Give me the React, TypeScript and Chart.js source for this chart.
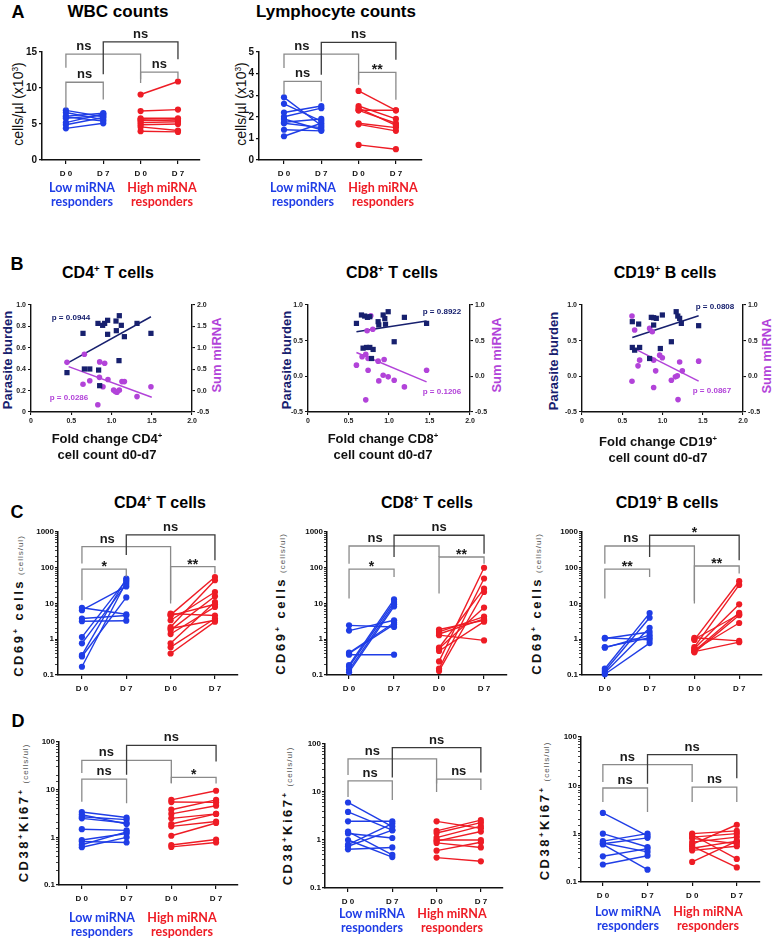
import React, { useEffect, useRef } from 'react';
import { Chart, registerables } from 'chart.js';
Chart.register(...registerables);

const SANS = '"Liberation Sans", Arial, Helvetica, sans-serif';
const HUM = 'Lato, "Open Sans", sans-serif';
const BLUE = '#1f3de6';
const RED = '#ee1c25';
const NAVY = '#17206e';
const PURPLE = '#b243d9';
const BR_GRAY = '#8a8a8a';
const BR_DARK = '#3a3a3a';

const dayLabels = ['D 0', 'D 7', 'D 0', 'D 7'];

// ---------- Panel A ----------
const wbcLowD0 = [6.9, 6.6, 6.1, 5.8, 5.2, 4.9, 4.4, 6.0];
const wbcLowD7 = [6.0, 5.6, 6.5, 6.2, 6.4, 5.9, 5.1, 5.4];
const wbcHighD0 = [9.1, 6.8, 5.8, 5.5, 5.2, 4.9, 4.6, 4.0, 5.6];
const wbcHighD7 = [10.9, 7.0, 5.8, 5.6, 5.3, 5.0, 4.1, 3.9, 5.4];
const wbcBrackets = [
  { x1: 1, x2: 2, top: 10.8, b1: 7.2, b2: 8.4, label: 'ns' },
  { x1: 3, x2: 4, top: 12.2, b1: 10.7, b2: 11.3, label: 'ns' },
  { x1: 1, x2: 3, top: 14.7, b1: 12.8, b2: 11.2, label: 'ns', labelX: 1.48 },
  { x1: 2, x2: 4, top: 16.4, b1: 11.9, b2: 14.0, label: 'ns', dark: true },
];

const lymLowD0 = [2.9, 2.6, 2.2, 2.0, 1.9, 1.75, 1.7, 1.4, 1.1];
const lymLowD7 = [1.6, 1.8, 2.5, 2.4, 1.4, 1.9, 1.5, 1.35, 1.7];
const lymHighD0 = [3.2, 2.5, 2.4, 2.3, 1.7, 1.65, 0.7, 2.3];
const lymHighD7 = [2.3, 1.9, 1.6, 2.3, 1.5, 1.35, 0.5, 1.7];
const lymBrackets = [
  { x1: 1, x2: 2, top: 3.64, b1: 3.02, b2: 2.71, label: 'ns' },
  { x1: 3, x2: 4, top: 4.06, b1: 3.48, b2: 2.79, label: '**' },
  { x1: 1, x2: 3, top: 4.9, b1: 4.26, b2: 3.72, label: 'ns', labelX: 1.48 },
  { x1: 2, x2: 4, top: 5.45, b1: 3.95, b2: 4.64, label: 'ns', dark: true },
];

// ---------- Panel B ----------
const cd4ParX = [0.447, 0.646, 0.663, 0.73, 0.84, 0.853, 0.832, 0.89, 0.915, 0.952, 0.952, 1.056, 1.06, 1.097, 1.093, 1.122, 1.16, 1.317, 1.49];
const cd4ParY = [0.368, 0.735, 0.402, 0.402, 0.392, 0.246, 0.828, 0.81, 0.828, 0.857, 0.726, 0.85, 0.76, 0.9, 0.48, 0.81, 0.704, 0.828, 0.735];
const cd4MirX = [0.447, 0.663, 0.646, 0.73, 0.853, 0.915, 0.85, 0.894, 0.956, 1.027, 1.048, 1.068, 1.097, 1.13, 1.16, 1.317, 1.49, 0.83];
const cd4MirY = [0.66, 0.85, 0.15, 0.23, 0.67, 0.64, 0.31, 0.09, 0.26, 0.01, -0.02, -0.04, 0.01, 0.21, 0.21, -0.14, 0.09, -0.33];
const cd4ParFitX = [0.447, 1.49];
const cd4ParFitY = [0.455, 0.89];
const cd4MirFitX = [0.468, 1.5];
const cd4MirFitY = [0.56, -0.157];

const cd8ParX = [0.598, 0.66, 0.7, 0.734, 0.763, 0.866, 0.874, 0.928, 0.948, 0.99, 0.957, 1.19, 1.464, 0.722, 0.763, 0.804, 0.784, 1.064, 0.68];
const cd8ParY = [0.742, 0.86, 0.845, 0.827, 0.836, 0.766, 0.72, 0.86, 0.81, 0.906, 0.73, 0.827, 0.742, 0.405, 0.405, 0.377, 0.25, 0.485, 0.395];
const cd8MirX = [0.775, 0.73, 0.8, 0.598, 0.668, 0.713, 0.742, 0.742, 0.866, 0.94, 0.874, 0.928, 0.99, 1.064, 1.19, 1.464, 0.713];
const cd8MirY = [0.85, 0.64, 0.66, 0.157, 0.274, 0.31, 0.25, 0.086, 0.213, 0.236, -0.064, 0.016, -0.007, -0.054, -0.148, 0.086, -0.33];
const cd8ParFitX = [0.598, 1.464];
const cd8ParFitY = [0.625, 0.775];
const cd8MirFitX = [0.598, 1.464];
const cd8MirFitY = [0.335, -0.078];

const cd19ParX = [0.625, 0.704, 0.625, 0.654, 0.716, 0.861, 0.89, 0.923, 0.89, 0.998, 0.84, 0.973, 1.11, 1.17, 1.19, 1.213, 1.234, 1.449];
const cd19ParY = [0.766, 0.733, 0.405, 0.367, 0.405, 0.827, 0.822, 0.813, 0.719, 0.86, 0.25, 0.39, 0.485, 0.906, 0.845, 0.813, 0.742, 0.71];
const cd19MirX = [0.621, 0.654, 0.84, 0.873, 0.716, 0.696, 0.89, 0.915, 0.965, 0.998, 0.621, 0.89, 1.11, 1.16, 1.184, 1.213, 1.246, 1.449, 1.193];
const cd19MirY = [0.845, 0.649, 0.672, 0.625, 0.227, 0.147, 0.227, 0.077, 0.297, 0.26, -0.068, -0.157, -0.054, -0.007, 0.007, 0.2, 0.077, 0.213, -0.326];
const cd19ParFitX = [0.625, 1.449];
const cd19ParFitY = [0.545, 0.85];
const cd19MirFitX = [0.687, 1.449];
const cd19MirFitY = [0.367, -0.068];

// ---------- Panel C ----------
const cd4cLowD0 = [7.6, 6.5, 3.8, 3.2, 1.15, 0.77, 0.36, 0.33, 0.17];
const cd4cLowD7 = [5.0, 30, 4.6, 3.3, 45, 35, 50, 14.8, 40];
const cd4cHighD0 = [5.2, 4.6, 3.4, 2.2, 1.8, 1.4, 0.77, 0.6, 0.4, 4.8, 2.0];
const cd4cHighD7 = [4.6, 9.5, 21, 45, 16, 8, 11, 3.8, 3.1, 55, 3.4];
const cd4cBrackets = [
  { x1: 1, x2: 2, top: 91, b1: 12.3, b2: 56, label: '*' },
  { x1: 3, x2: 4, top: 107, b1: 10, b2: 69, label: '**' },
  { x1: 1, x2: 3, top: 389, b1: 131, b2: 12.3, label: 'ns', labelX: 1.57 },
  { x1: 2, x2: 4, top: 832, b1: 229, b2: 163, label: 'ns', dark: true },
];

const cd8cLowD0 = [2.45, 1.75, 0.42, 0.4, 0.37, 0.19, 0.17, 0.14, 0.12];
const cd8cLowD7 = [2.2, 3.4, 2.9, 2.6, 0.37, 13, 11, 9.5, 8.3];
const cd8cHighD0 = [1.87, 1.6, 1.3, 0.58, 0.47, 0.24, 0.15, 0.13, 0.55, 1.4];
const cd8cHighD7 = [3.4, 4.3, 0.93, 26, 3.1, 100, 50, 21, 7.7, 3.7];
const cd8cBrackets = [
  { x1: 1, x2: 2, top: 91, b1: 13.8, b2: 55, label: '*' },
  { x1: 3, x2: 4, top: 200, b1: 19, b2: 130, label: '**' },
  { x1: 1, x2: 3, top: 406, b1: 130, b2: 200, label: 'ns', labelX: 1.58 },
  { x1: 2, x2: 4, top: 810, b1: 200, b2: 245, label: 'ns', dark: true },
];

const cd19cLowD0 = [1.1, 1.05, 0.58, 0.6, 0.15, 0.13, 0.115, 0.105];
const cd19cLowD7 = [0.96, 1.6, 1.3, 1.1, 5.4, 4.0, 2.1, 0.78];
const cd19cHighD0 = [1.1, 0.96, 0.6, 0.55, 0.47, 0.43, 0.5, 0.45, 1.0];
const cd19cHighD7 = [0.9, 42, 33, 9.5, 5.5, 4.7, 2.85, 0.83, 5.0];
const cd19cBrackets = [
  { x1: 1, x2: 2, top: 91, b1: 13.8, b2: 55, label: '**' },
  { x1: 3, x2: 4, top: 112, b1: 10, b2: 69, label: '**' },
  { x1: 1, x2: 3, top: 406, b1: 130, b2: 12, label: 'ns', labelX: 1.58 },
  { x1: 2, x2: 4, top: 810, b1: 200, b2: 162, label: '*', dark: true },
];

// ---------- Panel D ----------
const cd4dLowD0 = [3.4, 3.0, 2.7, 2.5, 1.48, 0.88, 0.82, 0.7, 0.62];
const cd4dLowD7 = [2.6, 1.9, 2.35, 2.0, 1.4, 1.2, 0.78, 1.3, 1.0];
const cd4dHighD0 = [6.1, 5.5, 3.8, 3.1, 2.5, 1.9, 1.7, 1.08, 0.69, 0.63];
const cd4dHighD7 = [9.5, 5.4, 6.1, 4.6, 3.1, 3.1, 2.15, 2.0, 0.9, 0.78];
const cd4dBrackets = [
  { x1: 1, x2: 2, top: 16.7, b1: 5.6, b2: 5.2, label: 'ns' },
  { x1: 3, x2: 4, top: 18.1, b1: 13.7, b2: 13.5, label: '*' },
  { x1: 1, x2: 3, top: 41, b1: 22.3, b2: 13.7, label: 'ns', labelX: 1.55 },
  { x1: 2, x2: 4, top: 85, b1: 20.5, b2: 39, label: 'ns', dark: true },
];

const cd8dLowD0 = [6.05, 3.85, 2.45, 1.5, 1.37, 1.0, 0.8, 0.74, 0.64];
const cd8dLowD7 = [1.9, 1.6, 2.45, 0.49, 1.1, 0.44, 2.2, 1.6, 0.7];
const cd8dHighD0 = [2.45, 1.55, 1.4, 1.12, 0.95, 0.87, 0.6, 0.43, 1.0];
const cd8dHighD7 = [1.75, 2.6, 2.3, 1.95, 1.5, 0.7, 0.9, 0.36, 1.0];
const cd8dBrackets = [
  { x1: 1, x2: 2, top: 17, b1: 7.9, b2: 6.8, label: 'ns' },
  { x1: 3, x2: 4, top: 18.6, b1: 10, b2: 11, label: 'ns' },
  { x1: 1, x2: 3, top: 49, b1: 22.5, b2: 15, label: 'ns', labelX: 1.55 },
  { x1: 2, x2: 4, top: 84, b1: 20, b2: 25.6, label: 'ns', dark: true },
];

const cd19dLowD0 = [2.68, 1.0, 0.7, 0.64, 0.6, 0.34, 0.23, 0.62];
const cd19dLowD7 = [0.9, 0.53, 1.0, 0.42, 0.18, 0.49, 0.35, 0.82];
const cd19dHighD0 = [1.0, 0.95, 0.85, 0.8, 0.67, 0.6, 0.5, 0.45, 0.26, 0.55];
const cd19dHighD7 = [1.14, 0.3, 1.0, 0.62, 0.85, 1.53, 0.7, 0.55, 0.7, 0.2];
const cd19dBrackets = [
  { x1: 1, x2: 2, top: 8.8, b1: 4.5, b2: 2.8, label: 'ns' },
  { x1: 3, x2: 4, top: 9.2, b1: 4.5, b2: 4.5, label: 'ns' },
  { x1: 1, x2: 3, top: 26.8, b1: 11.7, b2: 11.7, label: 'ns', labelX: 1.55 },
  { x1: 2, x2: 4, top: 43, b1: 10.8, b2: 14, label: 'ns', dark: true },
];

type Bracket = { x1: number; x2: number; top: number; b1: number; b2: number; label: string; labelX?: number; dark?: boolean };

function bracketPlugin(items: Bracket[]) {
  return {
    id: 'sigBrackets',
    afterDatasetsDraw(chart: any) {
      const { ctx } = chart;
      const xs = chart.scales.x;
      const ys = chart.scales.y;
      ctx.save();
      ctx.lineWidth = 1.3;
      items.forEach((it) => {
        const x1 = xs.getPixelForValue(it.x1);
        const x2 = xs.getPixelForValue(it.x2);
        const yt = ys.getPixelForValue(it.top);
        ctx.strokeStyle = it.dark ? BR_DARK : BR_GRAY;
        ctx.beginPath();
        ctx.moveTo(x1, ys.getPixelForValue(it.b1));
        ctx.lineTo(x1, yt);
        ctx.lineTo(x2, yt);
        ctx.lineTo(x2, ys.getPixelForValue(it.b2));
        ctx.stroke();
        const lx = xs.getPixelForValue(it.labelX ?? (it.x1 + it.x2) / 2);
        const star = it.label.indexOf('*') >= 0;
        ctx.fillStyle = '#1a1a1a';
        ctx.font = `bold ${star ? 14 : 13}px ${SANS}`;
        ctx.textAlign = 'center';
        ctx.textBaseline = 'alphabetic';
        ctx.fillText(it.label, lx, star ? yt + 2 : yt - 4);
      });
      ctx.restore();
    },
  };
}

const fmtLog = (v: number) => {
  const l = Math.log10(v);
  const r = Math.round(l);
  if (Math.abs(l - r) > 1e-6) return '';
  return r < 0 ? '0.1' : String(Math.pow(10, r));
};

function PairPanel(props: any) {
  const { rect, log, yMin, yMax, yStep, xMin, xMax, lowD0, lowD7, highD0, highD7, brackets, yFont } = props;
  const ref = useRef<HTMLCanvasElement>(null);
  const YW = 36, XH = 26, TOP = 54, RP = 14;
  const w = rect.r - rect.l + YW + RP;
  const h = rect.b - rect.t + TOP + XH;
  useEffect(() => {
    const datasets: any[] = [];
    const addPairs = (d0: number[], d7: number[], color: string, xa: number, xb: number) => {
      d0.forEach((v, i) => {
        datasets.push({
          data: [{ x: xa, y: v }, { x: xb, y: d7[i] }],
          borderColor: color,
          backgroundColor: color,
          borderWidth: 1.4,
          pointRadius: 3.1,
          pointBorderWidth: 0,
          pointHoverRadius: 3.1,
          clip: false,
          tension: 0,
        });
      });
    };
    addPairs(lowD0, lowD7, BLUE, 1, 2);
    addPairs(highD0, highD7, RED, 3, 4);
    const tickFont = { family: SANS, size: yFont, weight: 'bold' };
    const chart = new Chart(ref.current as HTMLCanvasElement, {
      type: 'line',
      data: { datasets },
      options: {
        animation: false,
        responsive: false,
        maintainAspectRatio: false,
        events: [],
        layout: { padding: { top: TOP, right: RP, left: 0, bottom: 0 } },
        plugins: { legend: { display: false }, tooltip: { enabled: false } },
        scales: {
          x: {
            type: 'linear',
            min: xMin,
            max: xMax,
            afterBuildTicks: (s: any) => {
              s.ticks = [1, 2, 3, 4].map((v) => ({ value: v }));
            },
            afterFit: (s: any) => {
              s.height = XH;
            },
            ticks: {
              callback: (v: any) => dayLabels[Math.round(v) - 1] ?? '',
              font: { family: SANS, size: 8, weight: 'bold' },
              color: '#111',
              padding: 5,
              maxRotation: 0,
              autoSkip: false,
            },
            grid: { drawOnChartArea: false, drawTicks: true, tickLength: 4, color: '#111', lineWidth: 1.2 },
            border: { display: true, color: '#111', width: 1.5 },
          },
          y: {
            type: log ? 'logarithmic' : 'linear',
            min: yMin,
            max: yMax,
            afterFit: (s: any) => {
              s.width = YW;
            },
            ticks: log
              ? { callback: (v: any) => fmtLog(Number(v)), autoSkip: false, font: tickFont, color: '#111', padding: 1 }
              : { stepSize: yStep, font: tickFont, color: '#111', padding: 2 },
            grid: {
              drawOnChartArea: false,
              drawTicks: true,
              tickLength: 3,
              color: '#111',
              lineWidth: (c: any) => (log && c.tick && fmtLog(c.tick.value) === '' ? 0.8 : 1.2),
            },
            border: { display: true, color: '#111', width: 1.5 },
          },
        },
      } as any,
      plugins: [bracketPlugin(brackets)],
    });
    return () => chart.destroy();
  }, []);
  return (
    <canvas
      ref={ref}
      width={w}
      height={h}
      style={{ position: 'absolute', left: rect.l - YW, top: rect.t - TOP, width: w, height: h }}
    />
  );
}

function ScatterPanel(props: any) {
  const { rect, left, right, leftZero, parX, parY, mirX, mirY, parFitX, parFitY, mirFitX, mirFitY } = props;
  const ref = useRef<HTMLCanvasElement>(null);
  const YW = 28, RW = 28, XH = 20, TOP = 8;
  const w = rect.r - rect.l + YW + RW;
  const h = rect.b - rect.t + TOP + XH;
  useEffect(() => {
    const pts = (xs: number[], ys: number[]) => xs.map((x, i) => ({ x, y: ys[i] }));
    const tickFont = { family: SANS, size: 7, weight: 'bold' };
    const fmt = (zero: boolean) => (v: any) => {
      const n = Number(v);
      if (Math.abs(n) < 1e-9) return zero ? '0' : '0.0';
      return n.toFixed(1);
    };
    const axisCommon = {
      grid: { drawOnChartArea: false, drawTicks: true, tickLength: 3, color: '#111', lineWidth: 1.1 },
      border: { display: true, color: '#111', width: 1.4 },
    };
    const chart = new Chart(ref.current as HTMLCanvasElement, {
      type: 'scatter',
      data: {
        datasets: [
          {
            data: pts(parX, parY),
            yAxisID: 'y',
            pointStyle: 'rect',
            pointRadius: 3.7,
            pointHoverRadius: 3.7,
            backgroundColor: NAVY,
            borderColor: NAVY,
            borderWidth: 0,
            clip: false,
          },
          {
            data: pts(mirX, mirY),
            yAxisID: 'y2',
            pointStyle: 'circle',
            pointRadius: 2.8,
            pointHoverRadius: 2.8,
            backgroundColor: PURPLE,
            borderColor: PURPLE,
            borderWidth: 0,
            clip: false,
          },
          {
            data: pts(parFitX, parFitY),
            yAxisID: 'y',
            showLine: true,
            pointRadius: 0,
            borderColor: NAVY,
            borderWidth: 1.5,
          },
          {
            data: pts(mirFitX, mirFitY),
            yAxisID: 'y2',
            showLine: true,
            pointRadius: 0,
            borderColor: PURPLE,
            borderWidth: 1.5,
          },
        ],
      },
      options: {
        animation: false,
        responsive: false,
        maintainAspectRatio: false,
        events: [],
        layout: { padding: { top: TOP, right: 0, left: 0, bottom: 0 } },
        plugins: { legend: { display: false }, tooltip: { enabled: false } },
        scales: {
          x: {
            type: 'linear',
            min: 0,
            max: 2,
            afterFit: (s: any) => {
              s.height = XH;
            },
            ticks: { stepSize: 0.5, callback: fmt(true), font: tickFont, color: '#222', padding: 2, maxRotation: 0 },
            ...axisCommon,
          },
          y: {
            type: 'linear',
            position: 'left',
            min: left.min,
            max: left.max,
            afterFit: (s: any) => {
              s.width = YW;
            },
            ticks: { stepSize: left.step, callback: fmt(leftZero), font: tickFont, color: '#222', padding: 2 },
            ...axisCommon,
          },
          y2: {
            type: 'linear',
            position: 'right',
            min: right.min,
            max: right.max,
            afterFit: (s: any) => {
              s.width = RW;
            },
            ticks: { stepSize: right.step, callback: fmt(false), font: tickFont, color: '#222', padding: 2 },
            ...axisCommon,
          },
        },
      } as any,
    });
    return () => chart.destroy();
  }, []);
  return (
    <canvas
      ref={ref}
      width={w}
      height={h}
      style={{ position: 'absolute', left: rect.l - YW, top: rect.t - TOP, width: w, height: h }}
    />
  );
}

const Txt = ({ x, y, rot, style, children }: any) => (
  <div
    style={{
      position: 'absolute',
      left: x,
      top: y,
      transform: `translate(-50%, -50%)${rot ? ' rotate(-90deg)' : ''}`,
      whiteSpace: 'nowrap',
      lineHeight: 1.15,
      textAlign: 'center',
      fontFamily: SANS,
      ...style,
    }}
  >
    {children}
  </div>
);

const Sup = ({ children }: any) => (
  <span style={{ fontSize: '0.6em', position: 'relative', top: '-0.6em' }}>{children}</span>
);

const titleStyle = { fontWeight: 'bold', fontSize: 17, color: '#000' };
const letterStyle = { fontWeight: 'bold', fontSize: 18, color: '#000' };
const groupStyle = (c: string) => ({ fontFamily: HUM, fontWeight: 'bold', fontSize: 12.5, color: c, lineHeight: '14px' });

const Groups = ({ xl, xh, y }: any) => (
  <>
    <Txt x={xl} y={y} style={groupStyle(BLUE)}>
      Low miRNA
      <br />
      responders
    </Txt>
    <Txt x={xh} y={y} style={groupStyle(RED)}>
      High miRNA
      <br />
      responders
    </Txt>
  </>
);

const CellsTitle = ({ x, y, main }: any) => (
  <Txt x={x} y={y} rot style={{ fontWeight: 'bold', fontSize: 13, letterSpacing: 2.5, color: '#111' }}>
    {main}
    <span style={{ fontWeight: 'normal', fontSize: 8, letterSpacing: 1, color: '#555', marginLeft: 4 }}>(cells/ul)</span>
  </Txt>
);

const bTitle = { fontWeight: 'bold', fontSize: 13, color: '#111' };
const pStyle = (c: string) => ({ fontWeight: 'bold', fontSize: 8, color: c });

export default function App() {
  return (
    <div style={{ position: 'absolute', left: 0, top: 0, width: 774, height: 942, background: '#fff', overflow: 'hidden' }}>
      {/* Panel A */}
      <Txt x={18} y={12} style={letterStyle}>A</Txt>
      <Txt x={118} y={12} style={titleStyle}>WBC counts</Txt>
      <Txt x={336} y={12} style={titleStyle}>Lymphocyte counts</Txt>
      <Txt x={18} y={104} rot style={{ fontSize: 14, color: '#111' }}>
        cells/µl (x10<Sup>3</Sup>)
      </Txt>
      <Txt x={241} y={104} rot style={{ fontSize: 14, color: '#111' }}>
        cells/µl (x10<Sup>3</Sup>)
      </Txt>
      <PairPanel rect={{ l: 42, r: 200, t: 52, b: 160 }} log={false} yMin={0} yMax={15} yStep={5} xMin={0.36} xMax={4.59}
        lowD0={wbcLowD0} lowD7={wbcLowD7} highD0={wbcHighD0} highD7={wbcHighD7} brackets={wbcBrackets} yFont={10} />
      <PairPanel rect={{ l: 259, r: 422, t: 52, b: 160 }} log={false} yMin={0} yMax={5} yStep={1} xMin={0.33} xMax={4.7}
        lowD0={lymLowD0} lowD7={lymLowD7} highD0={lymHighD0} highD7={lymHighD7} brackets={lymBrackets} yFont={10} />
      <Groups xl={82} xh={162} y={195} />
      <Groups xl={303} xh={383} y={195} />

      {/* Panel B */}
      <Txt x={17} y={264} style={letterStyle}>B</Txt>
      <Txt x={108} y={273} style={{ ...titleStyle, fontSize: 16 }}>CD4<Sup>+</Sup> T cells</Txt>
      <Txt x={392} y={273} style={{ ...titleStyle, fontSize: 16 }}>CD8<Sup>+</Sup> T cells</Txt>
      <Txt x={665} y={273} style={{ ...titleStyle, fontSize: 16 }}>CD19<Sup>+</Sup> B cells</Txt>

      <Txt x={8} y={360} rot style={{ ...bTitle, color: NAVY }}>Parasite burden</Txt>
      <Txt x={217} y={355} rot style={{ ...bTitle, color: PURPLE }}>Sum miRNA</Txt>
      <Txt x={287} y={360} rot style={{ ...bTitle, color: NAVY }}>Parasite burden</Txt>
      <Txt x={497} y={355} rot style={{ ...bTitle, color: PURPLE }}>Sum miRNA</Txt>
      <Txt x={554} y={361} rot style={{ ...bTitle, color: NAVY }}>Parasite burden</Txt>
      <Txt x={767} y={356} rot style={{ ...bTitle, color: PURPLE }}>Sum miRNA</Txt>

      <ScatterPanel rect={{ l: 31, r: 192, t: 305, b: 412 }} left={{ min: 0, max: 1, step: 0.2 }} right={{ min: -0.5, max: 2, step: 0.5 }} leftZero
        parX={cd4ParX} parY={cd4ParY} mirX={cd4MirX} mirY={cd4MirY} parFitX={cd4ParFitX} parFitY={cd4ParFitY} mirFitX={cd4MirFitX} mirFitY={cd4MirFitY} />
      <ScatterPanel rect={{ l: 308, r: 470, t: 305, b: 412 }} left={{ min: -0.5, max: 1, step: 0.5 }} right={{ min: -0.5, max: 1, step: 0.5 }} leftZero={false}
        parX={cd8ParX} parY={cd8ParY} mirX={cd8MirX} mirY={cd8MirY} parFitX={cd8ParFitX} parFitY={cd8ParFitY} mirFitX={cd8MirFitX} mirFitY={cd8MirFitY} />
      <ScatterPanel rect={{ l: 582, r: 743, t: 305, b: 412 }} left={{ min: -0.5, max: 1, step: 0.5 }} right={{ min: -0.5, max: 1, step: 0.5 }} leftZero={false}
        parX={cd19ParX} parY={cd19ParY} mirX={cd19MirX} mirY={cd19MirY} parFitX={cd19ParFitX} parFitY={cd19ParFitY} mirFitX={cd19MirFitX} mirFitY={cd19MirFitY} />

      <Txt x={71} y={318} style={pStyle(NAVY)}>p = 0.0944</Txt>
      <Txt x={69} y={398} style={pStyle(PURPLE)}>p = 0.0286</Txt>
      <Txt x={442} y={312} style={pStyle(NAVY)}>p = 0.8922</Txt>
      <Txt x={442} y={392} style={pStyle(PURPLE)}>p = 0.1206</Txt>
      <Txt x={715} y={307} style={pStyle(NAVY)}>p = 0.0808</Txt>
      <Txt x={712} y={391} style={pStyle(PURPLE)}>p = 0.0867</Txt>

      <Txt x={107} y={447} style={{ ...bTitle, lineHeight: '14px' }}>
        Fold change CD4<Sup>+</Sup>
        <br />
        cell count d0-d7
      </Txt>
      <Txt x={383} y={447} style={{ ...bTitle, lineHeight: '14px' }}>
        Fold change CD8<Sup>+</Sup>
        <br />
        cell count d0-d7
      </Txt>
      <Txt x={658} y={450} style={{ ...bTitle, lineHeight: '14px' }}>
        Fold change CD19<Sup>+</Sup>
        <br />
        cell count d0-d7
      </Txt>

      {/* Panel C */}
      <Txt x={17} y={512} style={letterStyle}>C</Txt>
      <Txt x={160} y={503} style={{ ...titleStyle, fontSize: 16 }}>CD4<Sup>+</Sup> T cells</Txt>
      <Txt x={427} y={503} style={{ ...titleStyle, fontSize: 16 }}>CD8<Sup>+</Sup> T cells</Txt>
      <Txt x={667} y={503} style={{ ...titleStyle, fontSize: 16 }}>CD19<Sup>+</Sup> B cells</Txt>
      <CellsTitle x={19} y={606} main={<>CD69<Sup>+</Sup> cells</>} />
      <CellsTitle x={281} y={604} main={<>CD69<Sup>+</Sup> cells</>} />
      <CellsTitle x={537} y={604} main={<>CD69<Sup>+</Sup> cells</>} />
      <PairPanel rect={{ l: 58, r: 238, t: 532, b: 675 }} log yMin={0.1} yMax={1000} xMin={0.46} xMax={4.52}
        lowD0={cd4cLowD0} lowD7={cd4cLowD7} highD0={cd4cHighD0} highD7={cd4cHighD7} brackets={cd4cBrackets} yFont={8} />
      <PairPanel rect={{ l: 327, r: 507, t: 532, b: 675 }} log yMin={0.1} yMax={1000} xMin={0.51} xMax={4.51}
        lowD0={cd8cLowD0} lowD7={cd8cLowD7} highD0={cd8cHighD0} highD7={cd8cHighD7} brackets={cd8cBrackets} yFont={8} />
      <PairPanel rect={{ l: 582, r: 762, t: 532, b: 675 }} log yMin={0.1} yMax={1000} xMin={0.49} xMax={4.51}
        lowD0={cd19cLowD0} lowD7={cd19cLowD7} highD0={cd19cHighD0} highD7={cd19cHighD7} brackets={cd19cBrackets} yFont={8} />

      {/* Panel D */}
      <Txt x={18} y={721} style={letterStyle}>D</Txt>
      <CellsTitle x={24} y={813} main={<>CD38<Sup>+</Sup>Ki67<Sup>+</Sup></>} />
      <CellsTitle x={288} y={816} main={<>CD38<Sup>+</Sup>Ki67<Sup>+</Sup></>} />
      <CellsTitle x={545} y={811} main={<>CD38<Sup>+</Sup>Ki67<Sup>+</Sup></>} />
      <PairPanel rect={{ l: 59, r: 238, t: 742, b: 885 }} log yMin={0.1} yMax={100} xMin={0.49} xMax={4.49}
        lowD0={cd4dLowD0} lowD7={cd4dLowD7} highD0={cd4dHighD0} highD7={cd4dHighD7} brackets={cd4dBrackets} yFont={8} />
      <PairPanel rect={{ l: 325, r: 503, t: 744, b: 888 }} log yMin={0.1} yMax={100} xMin={0.48} xMax={4.5}
        lowD0={cd8dLowD0} lowD7={cd8dLowD7} highD0={cd8dHighD0} highD7={cd8dHighD7} brackets={cd8dBrackets} yFont={8} />
      <PairPanel rect={{ l: 581, r: 760, t: 737, b: 882 }} log yMin={0.1} yMax={100} xMin={0.51} xMax={4.52}
        lowD0={cd19dLowD0} lowD7={cd19dLowD7} highD0={cd19dHighD0} highD7={cd19dHighD7} brackets={cd19dBrackets} yFont={8} />
      <Groups xl={102} xh={182} y={925} />
      <Groups xl={372} xh={452} y={921} />
      <Groups xl={628} xh={708} y={919} />
    </div>
  );
}
